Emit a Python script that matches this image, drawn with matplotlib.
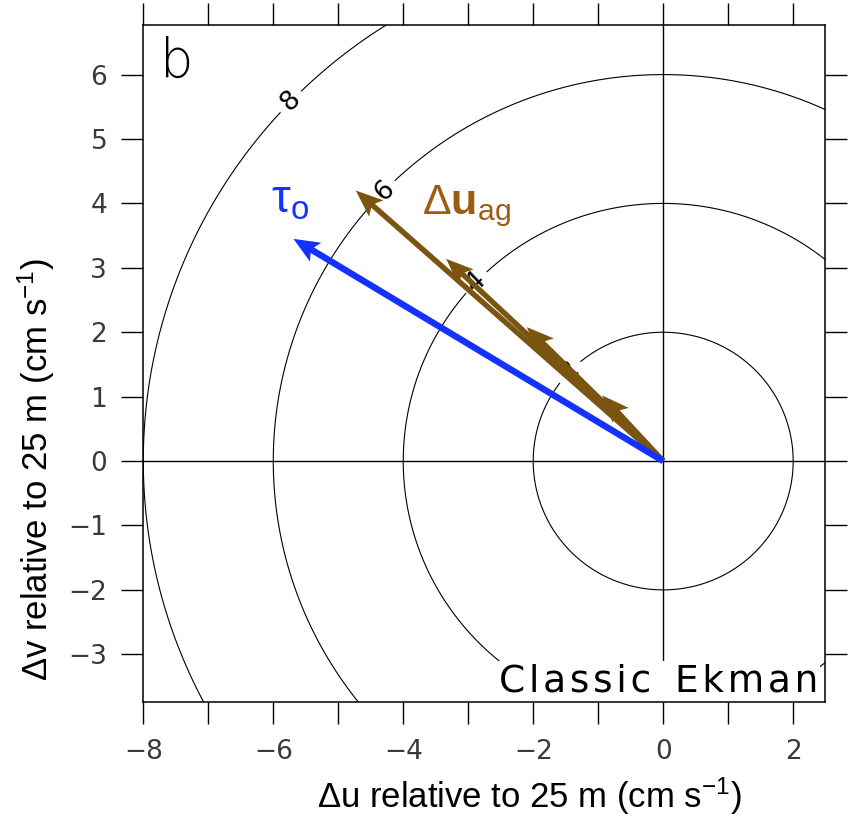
import numpy as np
import matplotlib
matplotlib.use("Agg")
import matplotlib.pyplot as plt
from matplotlib.ticker import FixedLocator, FixedFormatter

plt.rcParams['mathtext.fontset'] = 'custom'
plt.rcParams['mathtext.rm'] = 'Liberation Sans'
plt.rcParams['mathtext.it'] = 'Liberation Sans:italic'
plt.rcParams['mathtext.bf'] = 'Liberation Sans:bold'

# speed contours (cm/s) and hodograph arrows
levels = [2, 4, 6, 8]
label_pos = [(-1.45, 1.4), (-2.9, 2.8), (-4.3, 4.2), (-5.75, 5.6)]

# wind stress direction
tau_u = [-5.69]
tau_v = [3.45]

# ageostrophic shear at several depths
ag_u = [-4.73, -3.34, -2.10, -0.94]
ag_v = [4.20, 3.14, 2.08, 1.02]

x_ticks = list(range(-8, 3))
x_labels = ['\u22128', '', '\u22126', '', '\u22124', '', '\u22122', '', '0', '', '2']
y_ticks = list(range(-3, 7))
y_labels = ['\u22123', '\u22122', '\u22121', '0', '1', '2', '3', '4', '5', '6']

brown = '#7a5411'
blue = '#1432ff'

fig = plt.figure(figsize=(8.5, 8.17), dpi=100)
ax = fig.add_axes([0.1686, 0.1408, 0.802, 0.8286])

# contours of |du|
uu, vv = np.meshgrid(np.linspace(-9, 3, 400), np.linspace(-5, 8, 400))
cs = ax.contour(uu, vv, np.hypot(uu, vv), levels=levels, colors='k', linewidths=0.8, zorder=1)
ax.clabel(cs, fmt='%d', fontsize=19, inline=True, inline_spacing=4, manual=label_pos)

ax.axhline(0, color='k', lw=1.0, zorder=1)
ax.axvline(0, color='k', lw=1.0, zorder=1)

# arrows
ax.quiver(np.zeros(len(ag_u)), np.zeros(len(ag_u)), ag_u, ag_v, angles='xy', scale_units='xy',
          scale=1, color=brown, width=0.008, headwidth=4.0, headlength=5.0, headaxislength=4.2,
          zorder=3)
ax.quiver([0], [0], tau_u, tau_v, angles='xy', scale_units='xy', scale=1, color=blue,
          width=0.0095, headwidth=3.4, headlength=4.0, headaxislength=3.4, zorder=4)

# annotations
ax.text(-7.48, 6.2, 'b', fontsize=38, fontweight='light', ha='center', va='center')
ax.text(-5.75, 4.05, r'$\mathrm{\tau}_{\mathrm{o}}$', fontsize=34, color=blue, ha='center', va='center')
ax.text(-3.71, 3.84, r'$\mathrm{\Delta}\mathbf{u}_{\mathrm{ag}}$', fontsize=31, color='#9a5d12',
        ha='left', va='baseline')
hs = '\u200a'
ax.text(2.38, -3.58, hs.join('Classic') + '  ' + hs.join('Ekman'), fontsize=27,
        ha='right', va='baseline', zorder=2,
        bbox=dict(facecolor='white', edgecolor='none', pad=2))

ax.set_xlim(-8, 2.49)
ax.set_ylim(-3.74, 6.77)

ax.xaxis.set_major_locator(FixedLocator(x_ticks))
ax.xaxis.set_major_formatter(FixedFormatter(x_labels))
ax.yaxis.set_major_locator(FixedLocator(y_ticks))
ax.yaxis.set_major_formatter(FixedFormatter(y_labels))
ax.tick_params(direction='out', length=16, width=1.0, top=True, right=True,
               labelsize=19, labelcolor='#3a3a3a')
ax.tick_params(axis='x', pad=11)
ax.tick_params(axis='y', pad=10)
for sp in ax.spines.values():
    sp.set_linewidth(1.1)

ax.set_xlabel('\u0394u relative to 25 m (cm s$^{\mathrm{-1}}$)', fontsize=25, family='Liberation Sans')
ax.set_ylabel('\u0394v relative to 25 m (cm s$^{\mathrm{-1}}$)', fontsize=25, family='Liberation Sans')
ax.xaxis.set_label_coords(0.566, -0.108)
ax.yaxis.set_label_coords(-0.127, 0.343)

fig.savefig('out.png', dpi=100)
